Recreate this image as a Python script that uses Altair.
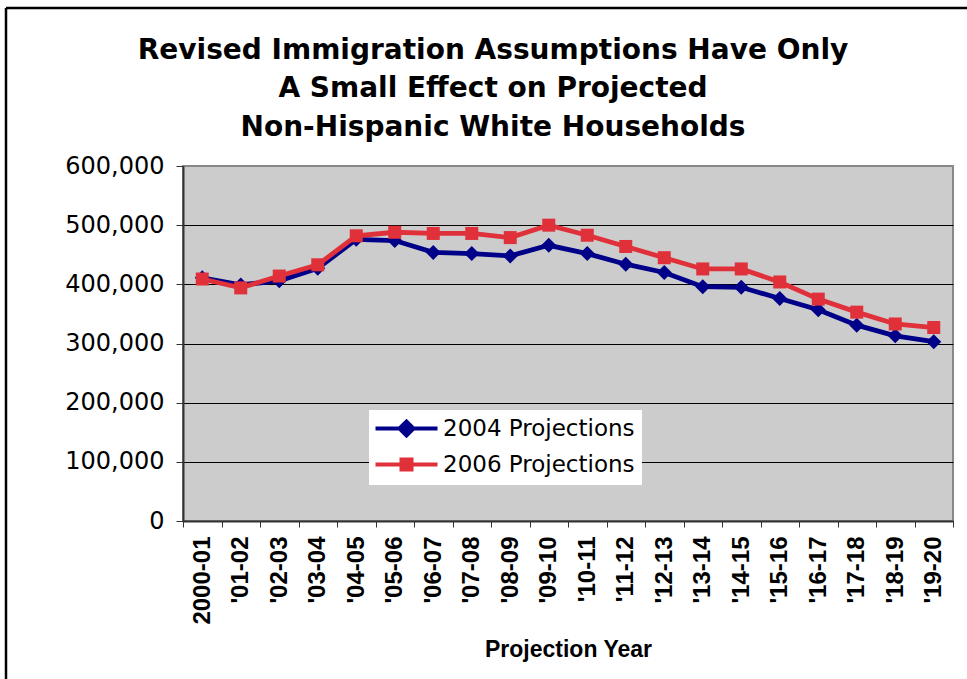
import altair as alt
import pandas as pd

# ---------------- data ----------------
years = ["2000-01", "'01-02", "'02-03", "'03-04", "'04-05", "'05-06", "'06-07",
         "'07-08", "'08-09", "'09-10", "'10-11", "'11-12", "'12-13", "'13-14",
         "'14-15", "'15-16", "'16-17", "'17-18", "'18-19", "'19-20"]
series_names = ["2004 Projections", "2006 Projections"]
proj_2004 = [411000, 399000, 406000, 427000, 476000, 474000, 454000, 452000, 448000, 466000,
             452000, 434000, 420000, 396000, 395000, 376000, 357000, 331000, 313000, 303000]
proj_2006 = [409000, 394000, 414000, 433000, 482000, 488000, 486000, 486000, 479000, 500000,
             483000, 464000, 445000, 426000, 426000, 404000, 375000, 353000, 333000, 327000]
y_ticks = [0, 100000, 200000, 300000, 400000, 500000, 600000]
title_lines = ["Revised Immigration Assumptions Have Only",
               "A Small Effect on Projected",
               "Non-Hispanic White Households"]
x_title = "Projection Year"

rows = []
for name, vals in zip(series_names, [proj_2004, proj_2006]):
    for yr, v in zip(years, vals):
        rows.append({"year": yr, "series": name, "value": v})
df = pd.DataFrame(rows)

BLUE = "#000088"
RED = "#E0303A"

DIAMOND_PATH = "M-2.4,0L10,0M2.4,0L3.8,-1.4L5.2,0L3.8,1.4Z"
SQUARE_PATH = "M-2.4,0L10,0M2.8,-1L4.8,-1L4.8,1L2.8,1Z"
sym_expr = "datum.value === '2004 Projections' ? '%s' : '%s'" % (DIAMOND_PATH, SQUARE_PATH)
col_expr = "datum.value === '2004 Projections' ? '%s' : '%s'" % (BLUE, RED)

x_enc = alt.X(
    "year:N", sort=years,
    scale=alt.Scale(type="band", domain=years, paddingInner=0, paddingOuter=0),
    bandPosition=0.5,
    title=x_title,
    axis=alt.Axis(
        tickBand="extent", labelAngle=270, labelFont="Liberation Sans",
        labelFontWeight="bold", labelFontSize=24, labelColor="black", labelPadding=9,
        tickSize=6, tickColor="#333333", domainColor="#333333", domainWidth=2,
        grid=False, titleFont="Liberation Sans", titleFontWeight="bold",
        titleFontSize=23, titleColor="black", titlePadding=14,
    ),
)
y_enc = alt.Y(
    "value:Q",
    scale=alt.Scale(domain=[0, 600000], nice=False),
    title=None,
    axis=alt.Axis(
        values=y_ticks, format=",.0f", labelFont="DejaVu Sans", labelFontSize=24,
        labelColor="black", labelPadding=12, tickSize=7, tickColor="#333333",
        domainColor="#333333", domainWidth=2,
        gridColor={"condition": {"test": "datum.value === 600000", "value": "#888888"}, "value": "black"},
        gridWidth=1,
    ),
)
color_enc = alt.Color(
    "series:N",
    scale=alt.Scale(domain=series_names, range=[BLUE, RED]),
    legend=alt.Legend(
        title=None, orient="none", legendX=186, legendY=244, fillColor="white",
        padding=7, labelFont="DejaVu Sans", labelFontSize=23, labelColor="black",
        labelLimit=400, labelOffset=44, rowPadding=7, symbolSize=100, symbolStrokeWidth=4,
        symbolType=alt.ExprRef(expr=sym_expr),
        symbolStrokeColor=alt.ExprRef(expr=col_expr),
        symbolFillColor=alt.ExprRef(expr=col_expr),
        symbolOpacity=1,
    ),
)

base = alt.Chart(df)
layers = []
for name, shape, size in zip(series_names, ["diamond", "square"], [225, 169]):
    sub = base.transform_filter(alt.datum.series == name)
    layers.append(sub.mark_line(strokeWidth=4.8).encode(x=x_enc, y=y_enc, color=color_enc))
    layers.append(sub.mark_point(filled=True, opacity=1, size=size, shape=shape).encode(
        x=x_enc, y=y_enc, color=color_enc))

frame_df = pd.DataFrame({"a": [0]})
frame_left = alt.Chart(frame_df).mark_rule(color="black", strokeWidth=2.5).encode(
    x=alt.value(-177), y=alt.value(-158), y2=alt.value(520))
frame_top = alt.Chart(frame_df).mark_rule(color="black", strokeWidth=2.5).encode(
    x=alt.value(-177), x2=alt.value(800), y=alt.value(-158))

chart = alt.layer(*layers, frame_left, frame_top).properties(
    width=770, height=355,
    background="white",
    autosize=alt.AutoSizeParams(type="none"),
    padding={"left": 183, "top": 166, "right": 14, "bottom": 158},
    title=alt.TitleParams(
        text=title_lines, font="DejaVu Sans", fontSize=28, fontWeight="bold",
        color="black", anchor="middle", frame="group", dx=-75, offset=-135,
        lineHeight=38.5,
    ),
).configure_view(
    fill="#CCCCCC", stroke="#888888", strokeWidth=2
)

chart.save("out.html", embed_options={"renderer": "svg", "actions": False})
